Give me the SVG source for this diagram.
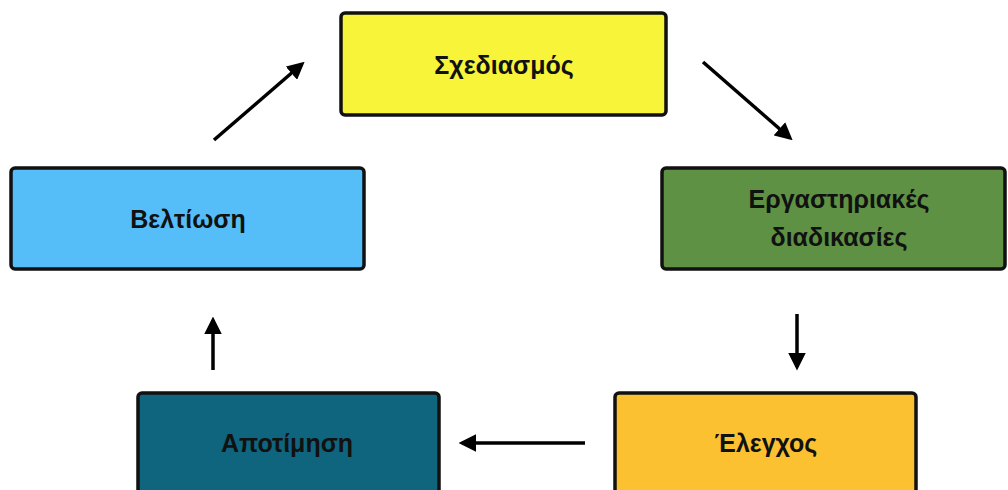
<svg xmlns="http://www.w3.org/2000/svg" width="1008" height="490" viewBox="0 0 1008 490">
<style>
.box{stroke:#111;stroke-width:3.5}
.lbl{font-family:"Liberation Sans",Arial,sans-serif;font-weight:bold;font-size:25px;fill:#111;text-anchor:middle}
.con{stroke:#000;stroke-width:3.5;fill:none;marker-end:url(#ah)}
</style>
<defs>
<marker id="ah" viewBox="0 0 10 10" refX="8" refY="5" markerWidth="5" markerHeight="5" orient="auto" markerUnits="strokeWidth">
<path d="M0,0 L10,5 L0,10 z" fill="#000"/>
</marker>
</defs>
<rect width="1008" height="490" fill="#fff"/>
<g id="connectors">
<line class="con" x1="214" y1="140" x2="302" y2="64"/>
<line class="con" x1="703" y1="62" x2="790" y2="138"/>
<line class="con" x1="797" y1="314" x2="797" y2="367"/>
<line class="con" x1="585" y1="443" x2="462" y2="443"/>
<line class="con" x1="213" y1="370" x2="213" y2="320"/>
</g>
<g id="n-sxediasmos">
<rect class="box" x="341" y="13" width="325" height="102" rx="4" fill="#f7f43a"/>
<text class="lbl" x="504" y="74">Σχεδιασμός</text>
</g>
<g id="n-ergastiriakes">
<rect class="box" x="662" y="168" width="343" height="101" rx="4" fill="#5e9143"/>
<text class="lbl" x="839" y="208">Εργαστηριακές</text>
<text class="lbl" x="839" y="246">διαδικασίες</text>
</g>
<g id="n-beltiosi">
<rect class="box" x="11" y="168" width="353" height="101" rx="4" fill="#55bdf8"/>
<text class="lbl" x="188" y="228">Βελτίωση</text>
</g>
<g id="n-apotimisi">
<rect class="box" x="138" y="393" width="301" height="110" rx="4" fill="#0f647e"/>
<text class="lbl" x="287" y="452">Αποτίμηση</text>
</g>
<g id="n-elegxos">
<rect class="box" x="615" y="393" width="301" height="110" rx="4" fill="#fbc131"/>
<text class="lbl" x="766" y="452">Έλεγχος</text>
</g>
</svg>
